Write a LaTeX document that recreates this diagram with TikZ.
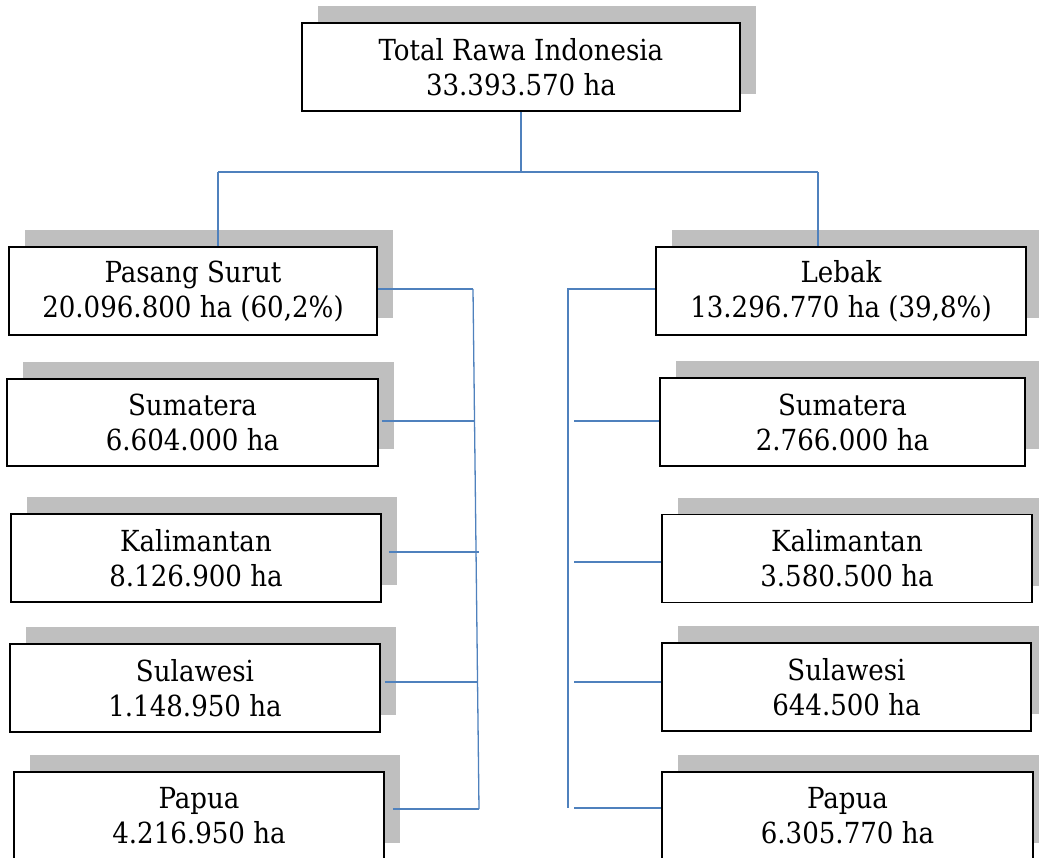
\documentclass[tikz,border=0pt]{standalone}
\usepackage{fontspec}
\setmainfont{DejaVu Serif Condensed}
\usetikzlibrary{shadows,calc}
\definecolor{conncol}{RGB}{79,129,189}
\definecolor{shadecol}{RGB}{191,191,191}
\begin{document}
\begin{tikzpicture}[x=1pt,y=-1pt,
  regbox/.style={draw=black, line width=1.6pt, fill=white, align=center,
    inner sep=0pt, minimum height=88pt, font=\fontsize{29}{35}\selectfont,
    general shadow={fill=shadecol, draw=none, shadow xshift=16pt, shadow yshift=17pt}},
  conn/.style={draw=conncol, line width=1.3pt}]
\useasboundingbox (0,0) rectangle (1039,857);
\clip (0,0) rectangle (1039,857);
% boxes
\node[regbox, minimum width=438pt] (top) at (521,67) {Total Rawa Indonesia\\33.393.570 ha};
\node[regbox, minimum width=368pt] (ps) at (193,291) {Pasang Surut\\20.096.800 ha (60,2\%)};
\node[regbox, minimum width=371pt, minimum height=87pt] (lsum) at (192.5,422.5) {Sumatera\\6.604.000 ha};
\node[regbox, minimum width=370pt] (lkal) at (196,558) {Kalimantan\\8.126.900 ha};
\node[regbox, minimum width=370pt] (lsul) at (195,688) {Sulawesi\\1.148.950 ha};
\node[regbox, minimum width=370pt] (lpap) at (199,816) {Papua\\4.216.950 ha};
\node[regbox, minimum width=370pt] (lb) at (841,291) {Lebak\\13.296.770 ha (39,8\%)};
\node[regbox, minimum width=365pt] (rsum) at (842.5,422) {Sumatera\\2.766.000 ha};
\node[regbox, minimum width=370pt] (rkal) at (847,558.5) {Kalimantan\\3.580.500 ha};
\node[regbox, minimum width=369pt] (rsul) at (846.5,687) {Sulawesi\\644.500 ha};
\node[regbox, minimum width=371pt] (rpap) at (847.5,816) {Papua\\6.305.770 ha};
% top connectors
\coordinate (hL) at (218,172);
\coordinate (hR) at (818,172);
\draw[conn] (top.south) -- (top.south |- hL);
\draw[conn] (hL) -- (hR);
\draw[conn] (hL) -- (hL |- ps.north);
\draw[conn] (hR) -- (hR |- lb.north);
% left trunk
\coordinate (tL0) at (473,289);
\coordinate (tL1) at (474.5,421);
\coordinate (tL2) at (479,552);
\coordinate (tL3) at (477.5,682);
\coordinate (tL4) at (479,809);
\draw[conn] (tL0) -- (tL4);
\draw[conn] (ps.east |- tL0) -- (tL0);
\draw[conn] ($(lsum.east |- tL1)+(3,0)$) -- (tL1);
\draw[conn] ($(lkal.east |- tL2)+(7,0)$) -- (tL2);
\draw[conn] ($(lsul.east |- tL3)+(4,0)$) -- (tL3);
\draw[conn] ($(lpap.east |- tL4)+(8,0)$) -- (tL4);
% right trunk
\coordinate (tR0) at (568,289);
\coordinate (tR4) at (568,808);
\draw[conn] (lb.west |- tR0) -- (tR0) -- (tR4);
\coordinate (bR1) at (574,421);
\coordinate (bR2) at (574,562);
\coordinate (bR3) at (574,682);
\coordinate (bR4) at (574,808);
\draw[conn] (bR1) -- (rsum.west |- bR1);
\draw[conn] (bR2) -- (rkal.west |- bR2);
\draw[conn] (bR3) -- (rsul.west |- bR3);
\draw[conn] (bR4) -- (rpap.west |- bR4);
\end{tikzpicture}
\end{document}
